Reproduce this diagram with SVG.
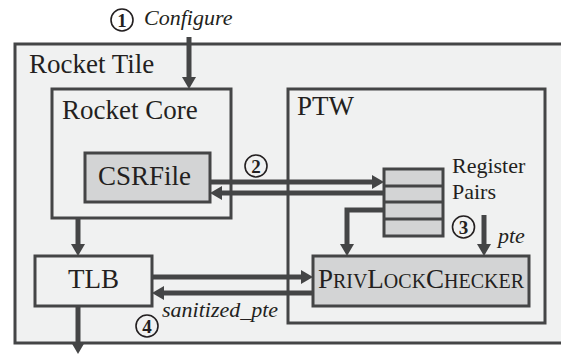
<svg xmlns="http://www.w3.org/2000/svg" width="561" height="355" viewBox="0 0 561 355">
<style>
  .box{fill:#f0f1f1;stroke:#444546;stroke-width:3}
  .gbox{fill:#d3d4d5;stroke:#444546;stroke-width:3}
  .lbl{font-family:"Liberation Serif","Times New Roman",serif;font-size:27px;fill:#231f20}
  .it{font-family:"Liberation Serif","Times New Roman",serif;font-size:22px;font-style:italic;fill:#231f20}
  .num{font-family:"Liberation Serif","Times New Roman",serif;font-size:19px;font-weight:bold;fill:#231f20;text-anchor:middle}
  .circ{fill:none;stroke:#231f20;stroke-width:1.6}
  .arr{fill:none;stroke:#444546;stroke-width:5;marker-end:url(#ah)}
</style>
<defs>
  <marker id="ah" markerUnits="userSpaceOnUse" viewBox="0 0 12 14" refX="4" refY="7" markerWidth="12" markerHeight="14" orient="auto">
    <path d="M0,0 L12,7 L0,14 z" fill="#444546"/>
  </marker>
</defs>
<rect width="561" height="355" fill="#ffffff"/>
<g id="rocket-tile">
  <rect class="box" x="15" y="44" width="560" height="299"/>
  <text class="lbl" x="29" y="73">Rocket Tile</text>
</g>
<g id="rocket-core">
  <rect class="box" x="52" y="89" width="179" height="129"/>
  <text class="lbl" x="62" y="119">Rocket Core</text>
</g>
<g id="ptw">
  <rect class="box" x="288" y="89" width="257" height="234"/>
  <text class="lbl" x="297" y="115">PTW</text>
</g>
<g id="csrfile">
  <rect class="gbox" x="85" y="153" width="125" height="49"/>
  <text class="lbl" x="98" y="185">CSRFile</text>
</g>
<g id="register-pairs">
  <rect class="gbox" x="384" y="169" width="59" height="67"/>
  <line x1="384" y1="186" x2="443" y2="186" stroke="#444546" stroke-width="3"/>
  <line x1="384" y1="202" x2="443" y2="202" stroke="#444546" stroke-width="3"/>
  <line x1="384" y1="219" x2="443" y2="219" stroke="#444546" stroke-width="3"/>
  <text font-family="Liberation Serif, Times New Roman, serif" font-size="22" fill="#231f20" x="452" y="173">Register</text>
  <text font-family="Liberation Serif, Times New Roman, serif" font-size="22" fill="#231f20" x="452" y="199">Pairs</text>
</g>
<g id="tlb">
  <rect class="box" x="35" y="256" width="117" height="50"/>
  <text class="lbl" x="93.5" y="288" text-anchor="middle">TLB</text>
</g>
<g id="privlockchecker">
  <rect class="gbox" x="313" y="256" width="216" height="50"/>
  <text class="lbl" x="421" y="288" text-anchor="middle">P<tspan font-size="20">RIV</tspan>L<tspan font-size="20">OCK</tspan>C<tspan font-size="20">HECKER</tspan></text>
</g>
<g id="connectors">
  <path class="arr" d="M189,37 V81"/>
  <path class="arr" d="M210,182 H376"/>
  <path class="arr" d="M384,193 H218"/>
  <path class="arr" d="M384,210 H347 V248"/>
  <path class="arr" d="M484,215 V248"/>
  <path class="arr" d="M78,218 V248"/>
  <path class="arr" d="M78,306 V346"/>
  <path class="arr" d="M152,277 H305"/>
  <path class="arr" d="M313,293 H160"/>
</g>
<g id="labels">
  <circle class="circ" cx="122" cy="20" r="11"/>
  <text class="num" x="122" y="27">1</text>
  <text class="it" x="144" y="25">Configure</text>
  <circle class="circ" cx="256" cy="166" r="11"/>
  <text class="num" x="256" y="173">2</text>
  <circle class="circ" cx="463.5" cy="227" r="11"/>
  <text class="num" x="463.5" y="234">3</text>
  <text class="it" x="498" y="243">pte</text>
  <circle class="circ" cx="147" cy="326" r="11"/>
  <text class="num" x="147" y="333">4</text>
  <text class="it" x="162" y="317">sanitized_pte</text>
</g>
</svg>
